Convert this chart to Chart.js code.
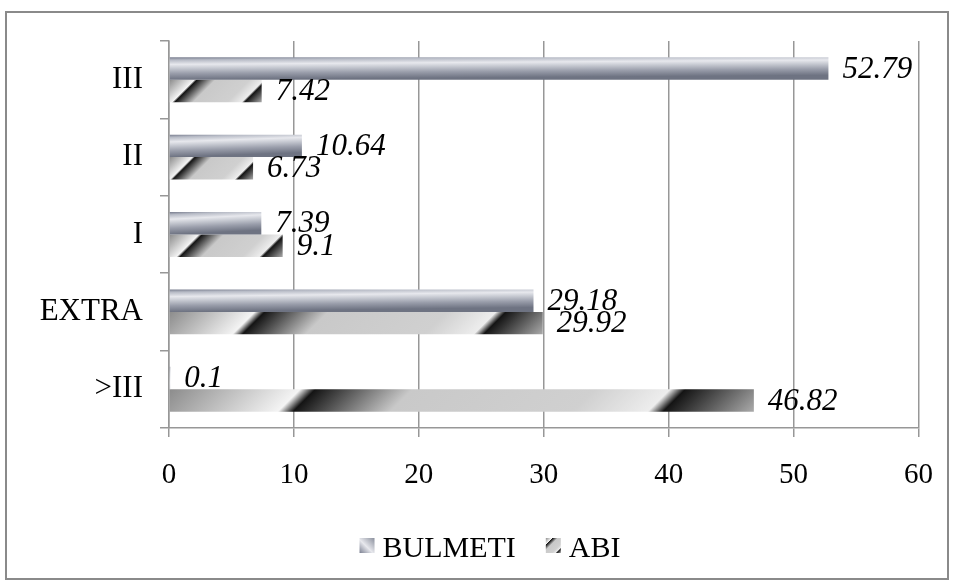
<!DOCTYPE html>
<html>
<head>
<meta charset="utf-8">
<script src="https://cdn.jsdelivr.net/npm/chart.js@4/dist/chart.umd.min.js"></script>
<style>
  html, body { margin: 0; padding: 0; background: #fff; }
  #wrap { width: 954px; height: 583px; position: relative; }
</style>
</head>
<body>
<div id="wrap"><canvas id="chart" width="954" height="583"></canvas></div>
<script>
// Categories (top to bottom) and the two series
const categories = ['III', 'II', 'I', 'EXTRA', '>III'];
const seriesNames = ['BULMETI', 'ABI'];
const bulmetiValues = [52.79, 10.64, 7.39, 29.18, 0.1];
const abiValues = [7.42, 6.73, 9.1, 29.92, 46.82];
const xAxisMin = 0;
const xAxisMax = 60;
const xAxisStep = 10;

const SERIF = '"Liberation Serif", "Times New Roman", serif';
const GRID = '#979797';

// Steel-blue metallic shading across the bar thickness, slightly tilted
function metalGradient(ctx, left, top, w, h) {
  const a = 0.2 * h * h / Math.max(w, 4);
  const g = ctx.createLinearGradient(left, top, left + a, top + h);
  g.addColorStop(0.00, '#777c8d');
  g.addColorStop(0.12, '#b6bac5');
  g.addColorStop(0.32, '#e7e8ed');
  g.addColorStop(0.48, '#c8cbd3');
  g.addColorStop(0.72, '#9a9eab');
  g.addColorStop(1.00, '#6e7382');
  return g;
}

// Chrome-like fill running diagonally along the bar
function chromeGradient(ctx, left, top, w, h) {
  const d = (w + h) / 2;
  const g = ctx.createLinearGradient(left, top, left + d, top + d);
  g.addColorStop(0.000, '#8c8c8c');
  g.addColorStop(0.215, '#f4f4f4');
  g.addColorStop(0.240, '#141414');
  g.addColorStop(0.400, '#c9c9c9');
  g.addColorStop(0.700, '#d0d0d0');
  g.addColorStop(0.825, '#ededed');
  g.addColorStop(0.850, '#141414');
  g.addColorStop(1.000, '#ababab');
  return g;
}

const fills = [metalGradient, chromeGradient];

// White page with a grey frame
const framePlugin = {
  id: 'frame',
  beforeDraw(chart) {
    const ctx = chart.ctx;
    ctx.save();
    ctx.fillStyle = '#ffffff';
    ctx.fillRect(0, 0, chart.width, chart.height);
    ctx.strokeStyle = '#8a8a8a';
    ctx.lineWidth = 2;
    ctx.strokeRect(6, 12, chart.width - 12, chart.height - 16);
    ctx.restore();
  }
};

// Give every bar its shaded fill, sized to its own geometry
const shadingPlugin = {
  id: 'shading',
  beforeDatasetsDraw(chart) {
    const ctx = chart.ctx;
    chart.data.datasets.forEach((ds, di) => {
      const meta = chart.getDatasetMeta(di);
      meta.data.forEach(el => {
        const p = el.getProps(['x', 'y', 'base', 'height'], true);
        const left = Math.min(p.x, p.base);
        const w = Math.abs(p.x - p.base);
        const top = p.y - p.height / 2;
        const grad = fills[di](ctx, left, top, w, p.height);
        el.options = Object.assign({}, el.options, { backgroundColor: grad, borderWidth: 0 });
      });
    });
  }
};

// Italic value labels just past the end of each bar
const valueLabelPlugin = {
  id: 'valueLabels',
  afterDatasetsDraw(chart) {
    const ctx = chart.ctx;
    ctx.save();
    ctx.font = 'italic 31px ' + SERIF;
    ctx.fillStyle = '#000';
    ctx.textAlign = 'left';
    ctx.textBaseline = 'middle';
    chart.data.datasets.forEach((ds, di) => {
      const meta = chart.getDatasetMeta(di);
      meta.data.forEach((el, i) => {
        ctx.fillText(String(ds.data[i]), el.x + 14, el.y + 1);
      });
    });
    ctx.restore();
  }
};

// Legend row under the axis: shaded swatch + series name
const legendPlugin = {
  id: 'legendRow',
  afterDraw(chart) {
    const ctx = chart.ctx;
    ctx.save();
    ctx.font = '30px ' + SERIF;
    ctx.textBaseline = 'alphabetic';
    ctx.fillStyle = '#000';
    const box = 15, gapText = 8, gapItem = 30;
    const names = chart.data.datasets.map(d => d.label);
    const widths = names.map(n => ctx.measureText(n).width);
    let total = 0;
    widths.forEach((w, i) => { total += box + gapText + w + (i ? gapItem : 0); });
    let x = 490 - total / 2;
    const baseY = 557;
    names.forEach((n, i) => {
      const by = 538;
      ctx.fillStyle = fills[i](ctx, x, by, box, box);
      if (i === 0) {
        const g = ctx.createLinearGradient(x, by + box, x + box, by);
        g.addColorStop(0, '#7b8091');
        g.addColorStop(0.45, '#e7e8ed');
        g.addColorStop(1, '#8a8f9c');
        ctx.fillStyle = g;
      }
      ctx.fillRect(x, by, box, box);
      x += box + gapText;
      ctx.fillStyle = '#000';
      ctx.fillText(n, x, baseY);
      x += widths[i] + gapItem;
    });
    ctx.restore();
  }
};

new Chart(document.getElementById('chart'), {
  type: 'bar',
  data: {
    labels: categories,
    datasets: [
      { label: seriesNames[0], data: bulmetiValues, backgroundColor: '#a9adb8' },
      { label: seriesNames[1], data: abiValues, backgroundColor: '#bdbdbd' }
    ]
  },
  options: {
    indexAxis: 'y',
    responsive: false,
    animation: false,
    events: [],
    devicePixelRatio: 1,
    categoryPercentage: 0.58,
    barPercentage: 1.0,
    layout: { padding: { left: 0, top: 41, right: 34, bottom: 95 } },
    plugins: {
      legend: { display: false },
      tooltip: { enabled: false }
    },
    scales: {
      x: {
        min: xAxisMin,
        max: xAxisMax,
        ticks: {
          stepSize: xAxisStep,
          color: '#000',
          font: { family: SERIF, size: 29 },
          padding: 21
        },
        grid: {
          color: GRID,
          lineWidth: 1.5,
          tickLength: 9,
          drawTicks: true
        },
        border: { color: GRID, width: 1.5 },
        afterFit(scale) { scale.height = 60; }
      },
      y: {
        ticks: {
          color: '#000',
          font: { family: SERIF, size: 31 },
          padding: 17
        },
        grid: {
          color: GRID,
          lineWidth: 1.5,
          tickLength: 9,
          drawOnChartArea: false,
          offset: true
        },
        border: { color: GRID, width: 1.5 },
        afterFit(scale) { scale.width = 169; }
      }
    }
  },
  plugins: [framePlugin, shadingPlugin, valueLabelPlugin, legendPlugin]
});
</script>
</body>
</html>
